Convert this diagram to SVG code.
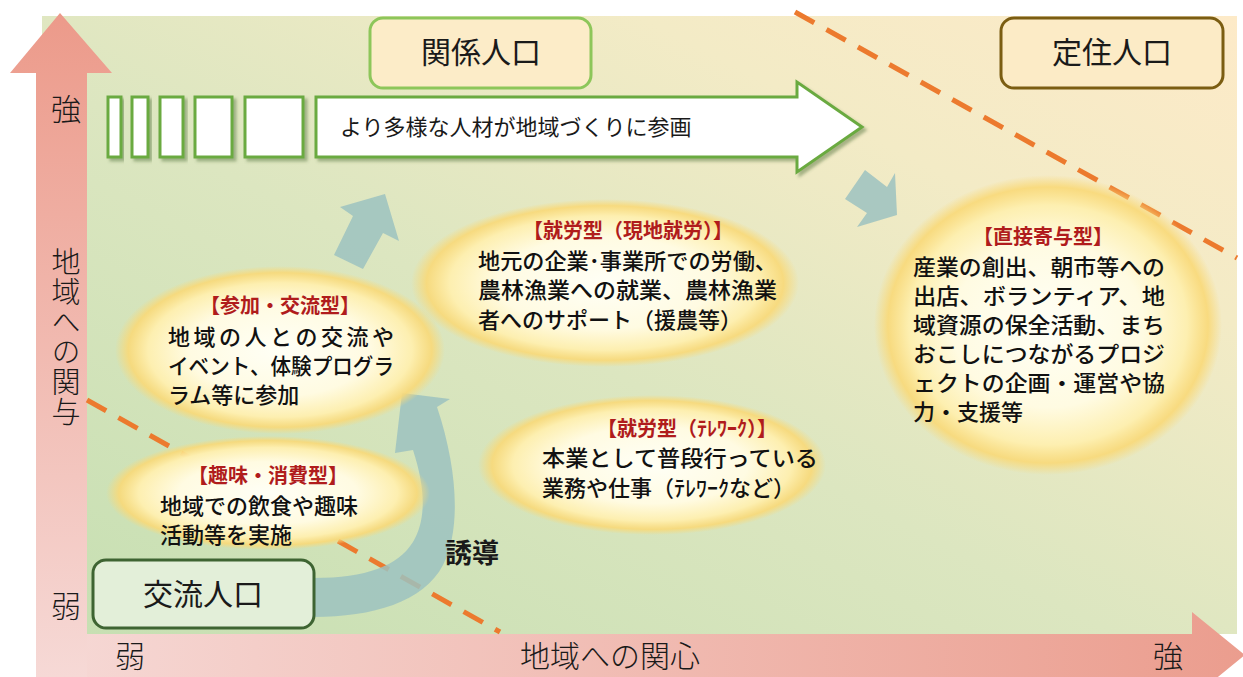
<svg xmlns="http://www.w3.org/2000/svg" width="1243" height="677" viewBox="0 0 1243 677">
<defs>
<linearGradient id="bg" x1="0" y1="1" x2="1" y2="0">
<stop offset="0" stop-color="#c6dfb2"/>
<stop offset="0.45" stop-color="#dce6c0"/>
<stop offset="0.75" stop-color="#f3ebc6"/>
<stop offset="1" stop-color="#fdeac8"/>
</linearGradient>
<linearGradient id="vax" x1="0" y1="0" x2="0" y2="1">
<stop offset="0" stop-color="#ec9a8a"/>
<stop offset="1" stop-color="#f6d9d6"/>
</linearGradient>
<linearGradient id="hax" x1="0" y1="0" x2="1" y2="0">
<stop offset="0" stop-color="#f6d9d6"/>
<stop offset="1" stop-color="#eb9d8e"/>
</linearGradient>
<radialGradient id="glow" cx="0.5" cy="0.5" r="0.5">
<stop offset="0" stop-color="#fffff6"/>
<stop offset="0.55" stop-color="#fffbe2"/>
<stop offset="0.8" stop-color="#fdefb0"/>
<stop offset="0.92" stop-color="#f9d978" stop-opacity="0.9"/>
<stop offset="1" stop-color="#f9d978" stop-opacity="0"/>
</radialGradient>
<filter id="sh" x="-20%" y="-20%" width="140%" height="140%">
<feDropShadow dx="3" dy="3" stdDeviation="1.5" flood-color="#4a6a30" flood-opacity="0.45"/>
</filter>
</defs>
<style>
text{font-family:"Noto Sans CJK JP","Noto Sans",sans-serif;fill:#1a1a1a}
.ax{font-size:30px;font-weight:300}
.lbl{font-size:30px;font-weight:400;text-anchor:middle}
.ttl{font-size:20px;font-weight:700;fill:#b01c1c;text-anchor:middle}
.body{font-size:22px;font-weight:500;fill:#111}
.dash{fill:none;stroke:#ec7a2e;stroke-width:5;stroke-dasharray:22 14}
.teal{fill:#9cc2c0;opacity:0.85}
.wr{fill:#ffffff;stroke:#6aaa40;stroke-width:3;filter:url(#sh)}
.ell{fill:url(#glow)}
</style>

<rect id="background" x="42" y="16" width="1195" height="618" fill="url(#bg)"/>

<g id="axes">
<path d="M36,634 L1192,634 L1192,612 L1245,655 L1192,698 L1192,677 L36,677 Z" fill="url(#hax)"/>
<path d="M36,677 L36,73 L10,73 L60,13 L112,73 L87,73 L87,677 Z" fill="url(#vax)"/>
<text class="ax" x="66" y="120" text-anchor="middle">強</text>
<text class="ax" x="66" y="247" style="writing-mode:vertical-rl;letter-spacing:1px;font-size:29px">地域への関与</text>
<text class="ax" x="66" y="617" text-anchor="middle">弱</text>
<text class="ax" x="130" y="667" text-anchor="middle">弱</text>
<text class="ax" x="610" y="667" text-anchor="middle">地域への関心</text>
<text class="ax" x="1168" y="667" text-anchor="middle">強</text>
</g>

<g id="connectors">
<path class="dash" d="M87,400 L500,632"/>
<path class="dash" d="M795,12 L1237,258"/>
<path class="teal" d="M340,207 L385,194 L399,241 L383,233 L363,269 L334,255 L353,216 Z"/>
<path class="teal" d="M865,170 L887,187 L895,173 L897,215 L857,227 L867,213 L845,199 Z"/>
<path class="teal" d="M314,617 C372,617 424,602 443,565 C461,530 458,470 437,407 L450,399 L402,393 L395,453 L413,450 C426,490 426,520 413,542 C398,566 366,578 314,578 Z"/>
</g>

<g id="node-sanka">
<ellipse class="ell" cx="280" cy="350" rx="165" ry="84"/>
<text class="ttl" x="280" y="313">【参加・交流型】</text>
<text class="body" x="168" y="345" textLength="226" lengthAdjust="spacing">地域の人との交流や</text>
<text class="body" x="168" y="374" textLength="226" lengthAdjust="spacingAndGlyphs">イベント、体験プログラ</text>
<text class="body" x="168" y="403">ラム等に参加</text>
</g>

<g id="node-shumi">
<ellipse class="ell" cx="268" cy="493" rx="162" ry="57"/>
<text class="ttl" x="268" y="483">【趣味・消費型】</text>
<text class="body" x="160" y="514">地域での飲食や趣味</text>
<text class="body" x="160" y="543">活動等を実施</text>
</g>

<g id="node-genchi">
<ellipse class="ell" cx="605" cy="283" rx="194" ry="84"/>
<text class="ttl" x="628" y="238">【就労型（現地就労）】</text>
<text class="body" x="478" y="269" textLength="299" lengthAdjust="spacingAndGlyphs">地元の企業･事業所での労働、</text>
<text class="body" x="478" y="298" textLength="299" lengthAdjust="spacingAndGlyphs">農林漁業への就業、農林漁業</text>
<text class="body" x="478" y="328">者へのサポート（援農等）</text>
</g>

<g id="node-tele">
<ellipse class="ell" cx="652" cy="465" rx="174" ry="70"/>
<text class="ttl" x="687" y="436">【就労型（ﾃﾚﾜｰｸ）】</text>
<text class="body" x="542" y="466" textLength="276" lengthAdjust="spacingAndGlyphs">本業として普段行っている</text>
<text class="body" x="542" y="496">業務や仕事（ﾃﾚﾜｰｸなど）</text>
</g>

<g id="node-chokusetsu">
<ellipse class="ell" cx="1048" cy="325" rx="174" ry="150"/>
<text class="ttl" x="1043" y="244">【直接寄与型】</text>
<text class="body" x="913" y="275" textLength="252" lengthAdjust="spacingAndGlyphs">産業の創出、朝市等への</text>
<text class="body" x="913" y="304" textLength="252" lengthAdjust="spacingAndGlyphs">出店、ボランティア、地</text>
<text class="body" x="913" y="333" textLength="252" lengthAdjust="spacingAndGlyphs">域資源の保全活動、まち</text>
<text class="body" x="913" y="362" textLength="252" lengthAdjust="spacingAndGlyphs">おこしにつながるプロジ</text>
<text class="body" x="913" y="391" textLength="252" lengthAdjust="spacingAndGlyphs">ェクトの企画・運営や協</text>
<text class="body" x="913" y="420">力・支援等</text>
</g>

<g id="node-yudo">
<text x="472" y="563" text-anchor="middle" style="font-size:27px;font-weight:700">誘導</text>
</g>

<g id="node-kankei">
<rect x="370" y="18" width="221" height="70" rx="13" fill="#fcecc8" stroke="#8dc65a" stroke-width="3"/>
<text class="lbl" x="481" y="63">関係人口</text>
</g>

<g id="node-teiju">
<rect x="1001" y="18" width="222" height="70" rx="13" fill="#fcebc6" stroke="#7b5d12" stroke-width="3"/>
<text class="lbl" x="1112" y="63">定住人口</text>
</g>

<g id="node-koryu">
<rect x="93" y="560" width="221" height="68" rx="13" fill="#e3efd9" stroke="#3e6432" stroke-width="3"/>
<text class="lbl" x="203" y="605">交流人口</text>
</g>

<g id="node-sankaku-arrow">
<rect class="wr" x="108" y="97" width="13" height="60"/>
<rect class="wr" x="132" y="97" width="16" height="60"/>
<rect class="wr" x="160" y="97" width="23" height="60"/>
<rect class="wr" x="195" y="97" width="37" height="60"/>
<rect class="wr" x="245" y="97" width="58" height="60"/>
<path class="wr" d="M316,97 L797,97 L797,82 L862,127 L797,172 L797,157 L316,157 Z"/>
<text x="340" y="135" style="font-size:22px;font-weight:400">より多様な人材が地域づくりに参画</text>
</g>
</svg>
